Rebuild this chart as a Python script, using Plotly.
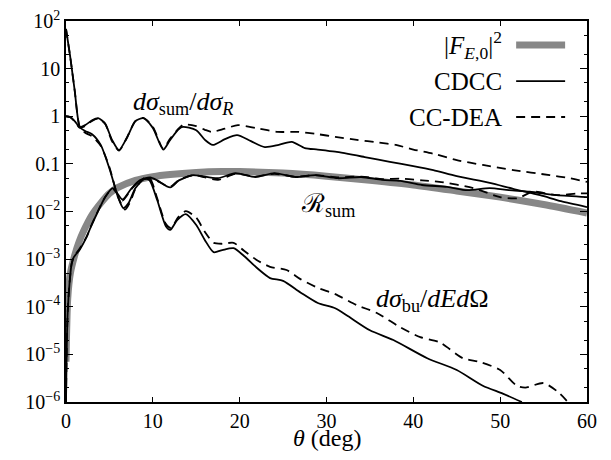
import plotly.graph_objects as go

# ---------------- data ----------------
theta_F = [0, 0.2, 0.5, 1, 1.5, 2, 3, 4, 5, 6, 8, 10, 12, 15, 18, 20, 25, 30, 35, 40, 45, 50, 55, 60]
F_E0 = [7e-6, 1.5e-4, 5e-4, 1.2e-3, 2.3e-3, 3.8e-3, 8.5e-3, 0.015, 0.024, 0.032, 0.045, 0.054, 0.06,
        0.066, 0.069, 0.069, 0.064, 0.055, 0.045, 0.036, 0.027, 0.02, 0.014, 0.0093]

theta_ratio_cdcc = [0, 0.5, 1.0, 1.6, 2.2, 3.0, 3.7, 4.5, 5.3, 6.1, 7.0, 8.0, 8.9, 10.0, 11.2, 12.0, 13.3,
                    15.0, 16.0, 16.9, 18.3, 19.7, 21.3, 22.9, 24.5, 26.0, 27.5, 29.0, 31.0, 34.4, 37.3,
                    40.0, 42.3, 45.0, 48.8, 51.5, 54.6, 57.0, 60.0]
ratio_cdcc = [1.0, 0.95, 0.79, 0.59, 0.65, 0.82, 0.91, 0.7, 0.32, 0.195, 0.35, 0.79, 0.91, 0.57, 0.20,
              0.32, 0.59, 0.51, 0.32, 0.25, 0.33, 0.40, 0.30, 0.225, 0.25, 0.29, 0.215, 0.2, 0.18,
              0.139, 0.11, 0.09, 0.074, 0.055, 0.040, 0.030, 0.022, 0.0165, 0.0124]

theta_ratio_dea = [0, 0.5, 1.0, 1.6, 2.2, 3.0, 3.7, 4.5, 5.3, 6.1, 7.0, 8.0, 8.9, 10.0, 11.2, 12.0, 13.5,
                   15.0, 16.0, 16.8, 18.3, 19.8, 22.0, 24.4, 26.7, 29.0, 31.0, 33.5, 36.0, 38.0, 40.0,
                   42.5, 45.0, 48.0, 51.5, 55.7, 58.0, 60.0]
ratio_dea = [1.0, 0.95, 0.78, 0.57, 0.62, 0.80, 0.89, 0.7, 0.3, 0.19, 0.35, 0.8, 0.92, 0.6, 0.21, 0.34,
             0.66, 0.62, 0.52, 0.47, 0.55, 0.65, 0.56, 0.47, 0.47, 0.42, 0.37, 0.32, 0.28, 0.25, 0.2,
             0.16, 0.12, 0.095, 0.074, 0.058, 0.05, 0.042]

theta_bu_cdcc = [0, 0.5, 1.0, 1.6, 2.2, 3.0, 4.0, 5.0, 6.0, 6.6, 7.2, 8.0, 9.0, 9.6, 10.5, 11.5, 12.0,
                 12.8, 13.8, 15.0, 16.0, 17.0, 18.0, 19.3, 20.5, 22.0, 23.5, 25.0, 27.0, 29.0, 31.0,
                 32.5, 35.0, 37.7, 41.6, 45.0, 48.0, 50.3, 52.5]
bu_cdcc = [68, 17, 3.5, 0.59, 0.49, 0.42, 0.25, 0.08, 0.02, 0.0118, 0.015, 0.031, 0.048, 0.046, 0.0174,
           0.0049, 0.0041, 0.0066, 0.0088, 0.0052, 0.0025, 0.0014, 0.00155, 0.0017, 0.00116, 6.5e-4,
           4.0e-4, 3.5e-4, 2.0e-4, 1.2e-4, 9.3e-5, 6.3e-5, 3.2e-5, 2.0e-5, 8.3e-6, 4.7e-6, 2.2e-6,
           1.5e-6, 1e-6]

theta_bu_dea = [0, 0.5, 1.0, 1.6, 2.2, 3.0, 4.0, 5.0, 6.0, 6.8, 7.4, 8.0, 9.0, 9.7, 10.5, 11.5, 12.1,
                12.9, 13.8, 15.0, 16.0, 17.0, 18.0, 19.3, 20.5, 22.0, 23.5, 25.4, 27.0, 29.0, 31.0,
                33.5, 35.8, 38.5, 40.8, 43.0, 45.7, 47.7, 50.0, 51.9, 52.9, 55.0, 56.7, 57.8]
bu_dea = [68, 17, 3.5, 0.58, 0.45, 0.38, 0.24, 0.085, 0.02, 0.011, 0.016, 0.03, 0.05, 0.048, 0.019,
          0.0055, 0.0045, 0.0075, 0.0102, 0.0074, 0.0037, 0.0022, 0.0021, 0.0022, 0.0015, 9.5e-4,
          6.9e-4, 5.9e-4, 3.8e-4, 2.5e-4, 1.84e-4, 1.08e-4, 7.4e-5, 3.7e-5, 2.3e-5, 1.8e-5, 8.3e-6,
          6.9e-6, 4.7e-6, 2.2e-6, 2.0e-6, 2.5e-6, 1.6e-6, 1e-6]

theta_R_cdcc = [0, 0.1, 0.2, 0.4, 0.65, 0.9, 1.6, 2.4, 2.8, 3.6, 4.5, 5.4, 6.5, 7.5, 8.5, 9.7, 10.5,
                12.0, 13.0, 14.6, 15.5, 17.5, 19.5, 21.8, 24.0, 26.4, 28.7, 31.3, 34.0, 36.4, 38.5,
                41.0, 43.9, 46.2, 48.8, 51.0, 53.4, 56.5, 60.0]
R_cdcc = [1e-6, 2e-5, 8e-5, 3e-4, 8e-4, 1.1e-3, 1.6e-3, 3e-3, 4.5e-3, 9.3e-3, 0.02, 0.031, 0.018, 0.03,
          0.045, 0.052, 0.045, 0.032, 0.045, 0.058, 0.056, 0.05, 0.064, 0.053, 0.064, 0.053, 0.058,
          0.05, 0.053, 0.046, 0.044, 0.036, 0.033, 0.028, 0.031, 0.028, 0.026, 0.022, 0.020]

theta_R_dea = [0, 0.1, 0.2, 0.4, 0.65, 0.9, 1.6, 2.4, 2.8, 3.6, 4.5, 5.4, 6.5, 7.5, 8.5, 9.7, 10.5,
               12.0, 13.0, 14.6, 15.5, 17.5, 19.5, 21.8, 24.0, 26.4, 28.7, 31.3, 34.0, 36.4, 38.5,
               41.0, 43.0, 46.9, 50.0, 52.0, 53.8, 56.5, 58.9, 60.0]
R_dea = [1e-6, 2e-5, 8e-5, 3e-4, 8e-4, 1.1e-3, 1.7e-3, 3e-3, 4.6e-3, 9.5e-3, 0.02, 0.03, 0.017, 0.029,
         0.044, 0.05, 0.044, 0.033, 0.046, 0.058, 0.055, 0.046, 0.062, 0.054, 0.062, 0.054, 0.058,
         0.052, 0.054, 0.048, 0.049, 0.045, 0.042, 0.031, 0.020, 0.019, 0.026, 0.022, 0.024, 0.024]

y_tickvals = [1e-6, 1e-5, 1e-4, 1e-3, 1e-2, 0.1, 1, 10, 100]
y_ticktext = ["10<sup>−6</sup>", "10<sup>−5</sup>", "10<sup>−4</sup>", "10<sup>−3</sup>",
              "10<sup>−2</sup>", "0.1", "1", "10", "10<sup>2</sup>"]
x_tickvals = [0, 10, 20, 30, 40, 50, 60]

legend_labels = ["|<i>F</i><sub><i>E</i>,0</sub>|<sup>2</sup>", "CDCC", "CC-DEA"]
x_title = "<i>θ</i> (deg)"

# ---------------- figure ----------------
FONT = "Liberation Serif"
GREY = "#878787"
DASH = "9px,6px"

fig = go.Figure()
line_kw = dict(shape="spline", smoothing=0.7)

fig.add_trace(go.Scatter(x=theta_F, y=F_E0, mode="lines",
                         line=dict(color=GREY, width=7, **line_kw), showlegend=False))
for th, v, dash in [(theta_R_cdcc, R_cdcc, "solid"), (theta_R_dea, R_dea, DASH),
                    (theta_ratio_cdcc, ratio_cdcc, "solid"), (theta_ratio_dea, ratio_dea, DASH),
                    (theta_bu_cdcc, bu_cdcc, "solid"), (theta_bu_dea, bu_dea, DASH)]:
    fig.add_trace(go.Scatter(x=th, y=v, mode="lines",
                             line=dict(color="black", width=1.8, dash=dash, **line_kw),
                             showlegend=False))

# manual legend (text left, sample line right)
leg_y = [0.937, 0.842, 0.748]
leg_style = [(GREY, 7, "solid"), ("black", 1.8, "solid"), ("black", 1.8, DASH)]
for lab, yy, (c, w, d) in zip(legend_labels, leg_y, leg_style):
    fig.add_annotation(x=0.84, y=yy, xref="paper", yref="paper", text=lab, showarrow=False,
                       xanchor="right", yanchor="middle", font=dict(family=FONT, size=25, color="black"))
    fig.add_shape(type="line", xref="paper", yref="paper", x0=0.864, x1=0.958, y0=yy, y1=yy,
                  line=dict(color=c, width=w, dash=d))

# curve labels
ann_font = dict(family=FONT, size=26, color="black")
fig.add_annotation(x=13.5, y=0.28, text="<i>dσ</i><sub>sum</sub>/<i>dσ</i><sub><i>R</i></sub>",
                   showarrow=False, font=ann_font)
fig.add_annotation(x=30.2, y=-1.87, text="ℛ<sub>sum</sub>", showarrow=False, font=ann_font)
fig.add_annotation(x=42.2, y=-3.86, text="<i>dσ</i><sub>bu</sub>/<i>dEd</i>Ω",
                   showarrow=False, font=ann_font)

# x-axis title placed as paper annotation (no automargin)
fig.add_annotation(x=0.5, y=-0.094, xref="paper", yref="paper", text=x_title, showarrow=False,
                   xanchor="center", yanchor="middle", font=dict(family=FONT, size=24, color="black"))

axis_common = dict(showline=True, linecolor="black", linewidth=1.5, mirror="allticks",
                   ticks="inside", tickcolor="black", showgrid=False, zeroline=False,
                   automargin=False, ticklabeloverflow="allow",
                   tickfont=dict(family=FONT, size=20, color="black"))

fig.update_xaxes(range=[0, 60], tickmode="array", tickvals=x_tickvals, ticklen=5, tickwidth=1,
                 **axis_common)
fig.update_yaxes(type="log", range=[-6, 2], tickmode="array", tickvals=y_tickvals,
                 ticktext=y_ticktext, ticklen=7, tickwidth=1,
                 minor=dict(ticks="inside", ticklen=3.5, tickcolor="black", dtick="D2", showgrid=False),
                 **axis_common)

# page body has an 8px margin: size the figure so the plot area lands where the reference has it
fig.update_layout(template="none", width=595, height=444, margin=dict(l=58, r=16, t=13, b=50),
                  plot_bgcolor="white", paper_bgcolor="white", showlegend=False)

fig.write_html("out.html")
